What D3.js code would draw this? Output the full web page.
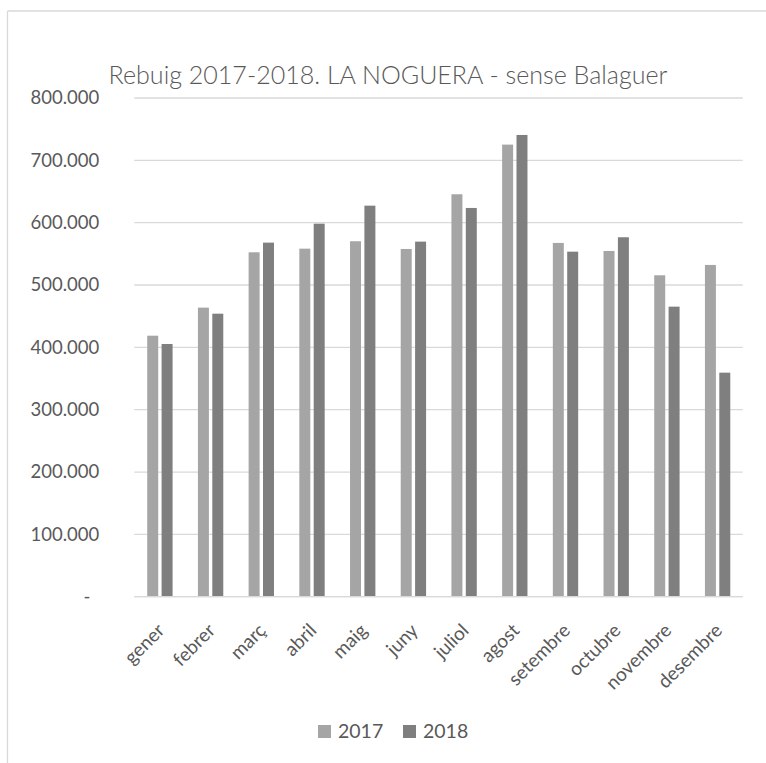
<!DOCTYPE html>
<html>
<head>
<meta charset="utf-8">
<script src="https://cdn.jsdelivr.net/npm/d3@7"></script>
<style>
  html, body { margin: 0; padding: 0; background: #fff; }
  svg { display: block; }
  text { font-family: Lato, "Open Sans", sans-serif; fill: #595959; }
</style>
</head>
<body>
<svg id="chart" width="766" height="763"></svg>
<script>
const titleText = "Rebuig 2017-2018. LA NOGUERA - sense Balaguer";
const months = ["gener","febrer","març","abril","maig","juny","juliol","agost","setembre","octubre","novembre","desembre"];
const seriesNames = ["2017", "2018"];
const values2017 = [418700, 463700, 552500, 558300, 570200, 557800, 645600, 725200, 567500, 554600, 515600, 532200];
const values2018 = [405400, 454000, 568000, 598400, 627300, 569600, 623600, 740700, 553500, 576600, 465300, 359400];
const yTicks = [0, 100000, 200000, 300000, 400000, 500000, 600000, 700000, 800000];
const yTickLabels = ["-", "100.000", "200.000", "300.000", "400.000", "500.000", "600.000", "700.000", "800.000"];
const colors = ["#A5A5A5", "#7F7F7F"];

const svg = d3.select("#chart");
const W = 766, H = 763;

// chart frame (only top and left edges visible)
svg.append("line").attr("x1", 7.5).attr("x2", W).attr("y1", 11).attr("y2", 11)
  .attr("stroke", "#D9D9D9").attr("stroke-width", 1.3);
svg.append("line").attr("x1", 7.5).attr("x2", 7.5).attr("y1", 11).attr("y2", H)
  .attr("stroke", "#D9D9D9").attr("stroke-width", 1.3);

const plot = { left: 134.3, right: 742.7, top: 98, bottom: 596.7 };

const x = d3.scaleBand().domain(months).range([plot.left, plot.right]).paddingInner(0).paddingOuter(0);
const bw = x.bandwidth();
const xInner = d3.scaleBand().domain(seriesNames).range([bw * 0.255, bw * 0.755]).paddingInner(0.236).paddingOuter(0);
const y = d3.scaleLinear().domain([0, 800000]).range([plot.bottom, plot.top]);

// gridlines
svg.append("g").selectAll("line").data(yTicks).join("line")
  .attr("x1", plot.left).attr("x2", plot.right)
  .attr("y1", d => y(d)).attr("y2", d => y(d))
  .attr("stroke", "#D9D9D9").attr("stroke-width", 1.3);

// y axis labels
const yAxis = d3.axisLeft(y).tickValues(yTicks).tickSize(0).tickPadding(35)
  .tickFormat((d, i) => yTickLabels[i]);
const yg = svg.append("g").attr("transform", `translate(${plot.left},0)`).call(yAxis);
yg.select(".domain").remove();
yg.selectAll("text").style("font-size", "18.5px").attr("fill", "#595959")
  .style("font-family", "Lato, 'Open Sans', sans-serif");
yg.selectAll("text").filter((d) => d === 0).attr("dx", -9);

// bars
const data = months.map((m, i) => ({ month: m, vals: [values2017[i], values2018[i]] }));
const groups = svg.append("g").selectAll("g").data(data).join("g")
  .attr("transform", d => `translate(${x(d.month)},0)`);
groups.selectAll("rect").data(d => d.vals.map((v, j) => ({ key: seriesNames[j], v, j })))
  .join("rect")
  .attr("x", d => xInner(d.key))
  .attr("width", xInner.bandwidth())
  .attr("y", d => y(d.v))
  .attr("height", d => y(0) - y(d.v))
  .attr("fill", d => colors[d.j]);

// x axis baseline
svg.append("line").attr("x1", plot.left).attr("x2", plot.right)
  .attr("y1", y(0)).attr("y2", y(0)).attr("stroke", "#D9D9D9").attr("stroke-width", 1.3);

// x axis labels
const xAxis = d3.axisBottom(x).tickSize(0).tickPadding(0);
const xg = svg.append("g").attr("transform", `translate(0,${plot.bottom})`).call(xAxis);
xg.select(".domain").remove();
xg.selectAll("text")
  .style("font-size", "19px")
  .attr("fill", "#595959")
  .attr("text-anchor", "end")
  .attr("dy", null)
  .attr("y", 0)
  .attr("transform", "translate(6,35) rotate(-45)");

// title (scaled to the reference width)
const title = svg.append("text").attr("x", 388).attr("y", 84).attr("text-anchor", "middle")
  .style("font-size", "24px").style("font-weight", 300).text(titleText);
const tw = title.node().getComputedTextLength();
title.style("font-size", (24 * 559 / tw).toFixed(2) + "px");

// legend
const legend = svg.append("g");
const legendX = [318, 403];
seriesNames.forEach((s, i) => {
  legend.append("rect").attr("x", legendX[i]).attr("y", 725).attr("width", 13).attr("height", 13)
    .attr("fill", colors[i]);
  legend.append("text").attr("x", legendX[i] + 20).attr("y", 738)
    .style("font-size", "19.5px").text(s);
});
</script>
</body>
</html>
